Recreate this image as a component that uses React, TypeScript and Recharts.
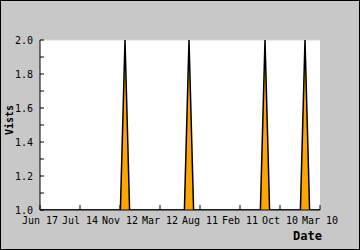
import React from "react";
import { AreaChart, Area, XAxis, YAxis, CartesianGrid } from "recharts";

// Tick labels along the date axis (left to right, as shown)
const dateLabels = ["Jun 17", "Jul 14", "Nov 12", "Mar 12", "Aug 11", "Feb 11", "Oct 10", "Mar 10"];
const dateTicks = [0, 1, 2, 3, 4, 5, 6, 7];

// Series: position along the date axis and visits
const datePos = [0, 2.01, 2.125, 2.24, 3.61, 3.725, 3.84, 5.51, 5.625, 5.74, 6.51, 6.625, 6.74, 7];
const visits = [1, 1, 2, 1, 1, 2, 1, 1, 2, 1, 1, 2, 1, 1];

const yTicks = [1.0, 1.1, 1.2, 1.3, 1.4, 1.5, 1.6, 1.7, 1.8, 1.9, 2.0];
const gridTicks = [1.2, 1.4, 1.6, 1.8];

const data = datePos.map((x, i) => ({ x, visits: visits[i] }));

const FONT = "'DejaVu Sans Mono', monospace";

const XTick = (props: any) => {
  const { x, y, payload } = props;
  return (
    <g>
      <line x1={x} x2={x} y1={y} y2={y - 5} stroke="#000" strokeWidth={1} />
      <text x={x} y={y + 14} textAnchor="middle" fontFamily={FONT} fontSize={10} fill="#000">
        {dateLabels[payload.value]}
      </text>
    </g>
  );
};

const YTick = (props: any) => {
  const { x, y, payload } = props;
  const v = payload.value as number;
  const major = Math.round(v * 10) % 2 === 0;
  return (
    <g>
      <line x1={x} x2={x + 4} y1={y} y2={y} stroke="#000" strokeWidth={1} />
      {major && (
        <text x={x - 7} y={y} dy="0.35em" textAnchor="end" fontFamily={FONT} fontSize={10} fill="#000">
          {v.toFixed(1)}
        </text>
      )}
    </g>
  );
};

export default function App() {
  return (
    <div style={{ position: "absolute", left: 0, top: 0, width: 360, height: 250, background: "#c8c8c8" }}>
      <AreaChart width={360} height={250} data={data} margin={{ top: 40, right: 40, bottom: 0, left: 0 }}>
        <CartesianGrid yAxisId="grid" vertical={false} stroke="#d8d8d8" fill="#ffffff" />
        <XAxis
          type="number"
          dataKey="x"
          domain={[0, 7]}
          ticks={dateTicks}
          interval={0}
          height={40}
          tickSize={0}
          tickMargin={0}
          axisLine={{ stroke: "#000" }}
          tickLine={false}
          tick={<XTick />}
        />
        <YAxis
          domain={[1, 2]}
          ticks={yTicks}
          interval={0}
          width={40}
          tickSize={0}
          tickMargin={0}
          axisLine={{ stroke: "#000" }}
          tickLine={false}
          tick={<YTick />}
          allowDataOverflow
        />
        <YAxis yAxisId="grid" hide domain={[1, 2]} ticks={gridTicks} interval={0} />
        <Area
          type="linear"
          dataKey="visits"
          stroke="#000"
          strokeWidth={1.5}
          fill="#ffa500"
          fillOpacity={1}
          baseValue={1}
          isAnimationActive={false}
          dot={false}
          activeDot={false}
        />
      </AreaChart>
      <svg width={360} height={250} style={{ position: "absolute", left: 0, top: 0, pointerEvents: "none" }}>
        <rect x={0.5} y={0.5} width={359} height={249} fill="none" stroke="#000" strokeWidth={1} />
        <text
          x={13}
          y={120}
          transform="rotate(-90 13 120)"
          textAnchor="middle"
          fontFamily={FONT}
          fontSize={10}
          fontWeight="bold"
          fill="#000"
        >
          Vists
        </text>
        <text x={322} y={240} textAnchor="end" fontFamily={FONT} fontSize={12} fontWeight="bold" fill="#000">
          Date
        </text>
      </svg>
    </div>
  );
}
